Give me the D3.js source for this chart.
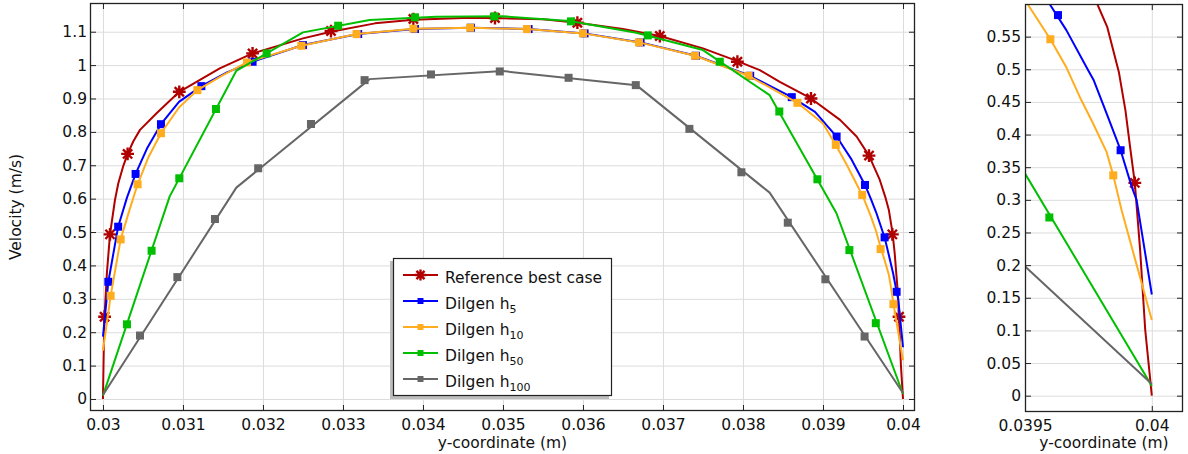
<!DOCTYPE html>
<html>
<head>
<meta charset="utf-8">
<script src="https://cdn.jsdelivr.net/npm/d3@7"></script>
<style>
  body { margin: 0; background: #fff; }
  svg { display: block; font-family: "DejaVu Sans", sans-serif; }
</style>
</head>
<body>
<svg id="chart" width="1188" height="454"></svg>
<script>
// ── Data: [y-coordinate (m), velocity (m/s)] ──────────────────────────
const refLine = [
  [0.03, 0], [0.03001, 0.15], [0.03002, 0.25], [0.03005, 0.38], [0.030088, 0.493],
  [0.03015, 0.596], [0.030192, 0.646], [0.03025, 0.695], [0.030308, 0.734], [0.03038, 0.772],
  [0.030463, 0.806], [0.03067, 0.856], [0.030954, 0.92], [0.03146, 0.99], [0.03187, 1.035],
  [0.0325, 1.08], [0.03285, 1.1], [0.0334, 1.125], [0.03388, 1.136], [0.0345, 1.141],
  [0.0349, 1.141], [0.0355, 1.137], [0.03593, 1.127], [0.0365, 1.108], [0.03696, 1.087],
  [0.0375, 1.05], [0.03793, 1.012], [0.03821, 0.985], [0.03846, 0.95], [0.03885, 0.9],
  [0.039213, 0.836], [0.03942, 0.786], [0.039575, 0.729], [0.03971, 0.656], [0.039785, 0.6],
  [0.039824, 0.565], [0.03987, 0.496], [0.039896, 0.437], [0.039916, 0.376], [0.039933, 0.326],
  [0.039954, 0.223], [0.039974, 0.101], [0.04, 0]
];
const refMarks = [
  [0.03002, 0.2465], [0.030088, 0.493], [0.030308, 0.734], [0.030954, 0.92], [0.03187, 1.035],
  [0.03285, 1.102], [0.03388, 1.138], [0.0349, 1.141], [0.03593, 1.127], [0.03696, 1.087],
  [0.03793, 1.01], [0.03885, 0.9], [0.039575, 0.729], [0.039867, 0.493], [0.03995, 0.2465]
];
const refInsetMarks = [[0.039933, 0.326]];

const h5Line = [
  [0.03, 0.187], [0.030067, 0.351], [0.03019, 0.516], [0.0303, 0.603], [0.030408, 0.674],
  [0.03055, 0.75], [0.030725, 0.823], [0.03095, 0.89], [0.03123, 0.937], [0.03155, 0.978],
  [0.03187, 1.01], [0.0325, 1.06], [0.03319, 1.093], [0.0339, 1.108], [0.0346, 1.112],
  [0.03532, 1.108], [0.03602, 1.095], [0.03672, 1.068], [0.03741, 1.028], [0.03809, 0.968],
  [0.03861, 0.904], [0.0389, 0.86], [0.03917, 0.786], [0.03935, 0.72], [0.039525, 0.641],
  [0.039597, 0.6], [0.039663, 0.56], [0.039749, 0.4985], [0.03977, 0.484], [0.039822, 0.432],
  [0.039877, 0.376], [0.03992, 0.321], [0.03994, 0.3], [0.04, 0.155]
];
const h5Marks = [
  [0.030067, 0.351], [0.03019, 0.516], [0.030408, 0.674], [0.030725, 0.823], [0.03123, 0.937],
  [0.03187, 1.01], [0.0325, 1.06], [0.03319, 1.093], [0.0339, 1.108], [0.0346, 1.112],
  [0.03532, 1.108], [0.03602, 1.095], [0.03672, 1.068], [0.03741, 1.028], [0.03809, 0.968],
  [0.03861, 0.904], [0.03917, 0.786], [0.039525, 0.641], [0.03977, 0.484], [0.03992, 0.321]
];
const h5InsetMarks = [[0.03963, 0.583], [0.039877, 0.376]];

const h10Line = [
  [0.03, 0.145], [0.030096, 0.309], [0.030221, 0.478], [0.03033, 0.565], [0.030433, 0.643],
  [0.03057, 0.725], [0.030725, 0.796], [0.03095, 0.873], [0.03118, 0.925], [0.0315, 0.97],
  [0.0318, 1.008], [0.03248, 1.058], [0.03317, 1.093], [0.03388, 1.109], [0.03459, 1.112],
  [0.0353, 1.108], [0.036, 1.095], [0.0367, 1.068], [0.0374, 1.028], [0.03807, 0.968],
  [0.03868, 0.887], [0.039, 0.825], [0.03916, 0.761], [0.0393, 0.7], [0.03949, 0.611],
  [0.03951, 0.6], [0.0396, 0.546], [0.039663, 0.503], [0.039716, 0.4576], [0.039769, 0.4166],
  [0.039822, 0.373], [0.039848, 0.3375], [0.039881, 0.284], [0.04, 0.116]
];
const h10Marks = [
  [0.030096, 0.309], [0.030221, 0.478], [0.030433, 0.643], [0.030725, 0.796], [0.03118, 0.925],
  [0.0318, 1.008], [0.03248, 1.058], [0.03317, 1.093], [0.03388, 1.109], [0.03459, 1.112],
  [0.0353, 1.108], [0.036, 1.095], [0.0367, 1.068], [0.0374, 1.028], [0.03807, 0.968],
  [0.03868, 0.887], [0.03916, 0.761], [0.03949, 0.611], [0.03972, 0.449], [0.03988, 0.284]
];
const h10InsetMarks = [[0.0396, 0.546], [0.039848, 0.3375]];

const h50Line = [
  [0.03, 0.01], [0.030833, 0.606], [0.031667, 0.983], [0.0325, 1.098], [0.033333, 1.135],
  [0.034167, 1.145], [0.035, 1.146], [0.035833, 1.132], [0.036667, 1.097], [0.0375, 1.045],
  [0.038333, 0.91], [0.039167, 0.557], [0.04, 0.015]
];
const h50Marks = [
  [0.0303, 0.2236], [0.030608, 0.444], [0.030954, 0.661], [0.0314125, 0.8685], [0.032046, 1.035],
  [0.03294, 1.118], [0.0339, 1.143], [0.034892, 1.146], [0.03585, 1.131], [0.03681, 1.089],
  [0.03771, 1.01], [0.038454, 0.861], [0.03893, 0.658], [0.03933, 0.446], [0.03966, 0.227]
];
const h50InsetMarks = [[0.039596, 0.273]];

const h100Line = [
  [0.03, 0.012], [0.031667, 0.633], [0.033333, 0.958], [0.035, 0.982],
  [0.036667, 0.94], [0.038333, 0.618], [0.04, 0.018]
];
const h100Marks = [
  [0.030463, 0.19], [0.03093, 0.365], [0.0314, 0.539], [0.03194, 0.691], [0.0326, 0.8236],
  [0.03327, 0.955], [0.0341, 0.972], [0.03496, 0.981], [0.03582, 0.962], [0.03666, 0.94],
  [0.03733, 0.809], [0.03798, 0.679], [0.03856, 0.528], [0.03903, 0.3585], [0.03952, 0.187]
];
const h100InsetMarks = [];

// ticks
const mainXTicks = [0.03, 0.031, 0.032, 0.033, 0.034, 0.035, 0.036, 0.037, 0.038, 0.039, 0.04];
const mainYTicks = [0, 0.1, 0.2, 0.3, 0.4, 0.5, 0.6, 0.7, 0.8, 0.9, 1, 1.1];
const insetXTicks = [0.0395, 0.04];
const insetYTicks = [0, 0.05, 0.1, 0.15, 0.2, 0.25, 0.3, 0.35, 0.4, 0.45, 0.5, 0.55];

const seriesNames = ['Reference best case', 'Dilgen h', 'Dilgen h', 'Dilgen h', 'Dilgen h'];
const seriesSubs  = [null, '5', '10', '50', '100'];
const seriesColors = ['#b00000', '#0000ff', '#ffad1f', '#00bf00', '#666666'];

const series = [
  { line: refLine,  marks: refMarks,  inset: refInsetMarks,  shape: 'star' },
  { line: h5Line,   marks: h5Marks,   inset: h5InsetMarks,   shape: 'square' },
  { line: h10Line,  marks: h10Marks,  inset: h10InsetMarks,  shape: 'square' },
  { line: h50Line,  marks: h50Marks,  inset: h50InsetMarks,  shape: 'square' },
  { line: h100Line, marks: h100Marks, inset: h100InsetMarks, shape: 'square' },
].map((s, i) => ({ ...s, name: seriesNames[i], sub: seriesSubs[i], color: seriesColors[i] }));

const svg = d3.select('#chart');
const FRAME = '#222';
const GRID = '#dcdcdc';
const FONT = 15.5;

function starPath(r) {
  const a = r * 0.72;
  return `M${-r},0H${r}M0,${-r}V${r}M${-a},${-a}L${a},${a}M${-a},${a}L${a},${-a}`;
}

function drawMarkers(g, pts, s, x, y, size) {
  if (s.shape === 'star') {
    g.selectAll(null).data(pts).join('path')
      .attr('transform', d => `translate(${x(d[0])},${y(d[1])})`)
      .attr('d', starPath(size * 0.8))
      .attr('stroke', s.color).attr('stroke-width', 2.4).attr('fill', 'none');
  } else {
    g.selectAll(null).data(pts).join('rect')
      .attr('x', d => x(d[0]) - size / 2).attr('y', d => y(d[1]) - size / 2)
      .attr('width', size).attr('height', size)
      .attr('fill', s.color);
  }
}

// ── One plot panel ───────────────────────────────────────────────────
function drawPanel(cfg) {
  const { left, right, top, bottom } = cfg;
  const x = d3.scaleLinear().domain(cfg.xDomain).range([left, right]);
  const y = d3.scaleLinear().domain(cfg.yDomain).range([bottom, top]);
  const g = svg.append('g');
  const fmt = d => String(+d.toFixed(4));

  // grid
  g.append('g').attr('transform', `translate(0,${bottom})`)
    .call(d3.axisBottom(x).tickValues(cfg.xTicks).tickSize(-(bottom - top)).tickFormat(''))
    .call(a => a.select('.domain').remove())
    .call(a => a.selectAll('line').attr('stroke', GRID));
  g.append('g').attr('transform', `translate(${left},0)`)
    .call(d3.axisLeft(y).tickValues(cfg.yTicks).tickSize(-(right - left)).tickFormat(''))
    .call(a => a.select('.domain').remove())
    .call(a => a.selectAll('line').attr('stroke', GRID));

  // series, clipped to the frame
  const clipId = 'clip-' + cfg.id;
  svg.append('clipPath').attr('id', clipId)
    .append('rect').attr('x', left).attr('y', top).attr('width', right - left).attr('height', bottom - top);
  const plot = g.append('g').attr('clip-path', `url(#${clipId})`);
  const line = d3.line().x(d => x(d[0])).y(d => y(d[1]));
  series.forEach(s => {
    plot.append('path').datum(s.line)
      .attr('d', line)
      .attr('fill', 'none').attr('stroke', s.color).attr('stroke-width', 2)
      .attr('stroke-linejoin', 'round');
    drawMarkers(plot, cfg.inset ? s.inset : s.marks, s, x, y, 8);
  });

  // inward ticks on all four sides
  const tickStyle = a => {
    a.select('.domain').remove();
    a.selectAll('line').attr('stroke', FRAME);
    a.selectAll('text').attr('fill', '#111').attr('font-size', FONT).attr('font-family', '"DejaVu Sans", sans-serif');
  };
  g.append('g').attr('transform', `translate(0,${bottom})`)
    .call(d3.axisBottom(x).tickValues(cfg.xTicks).tickSize(-6).tickPadding(8).tickFormat(fmt))
    .call(tickStyle);
  g.append('g').attr('transform', `translate(0,${top})`)
    .call(d3.axisTop(x).tickValues(cfg.xTicks).tickSize(-6).tickFormat(''))
    .call(tickStyle);
  g.append('g').attr('transform', `translate(${left},0)`)
    .call(d3.axisLeft(y).tickValues(cfg.yTicks).tickSize(-6).tickPadding(cfg.yPad).tickFormat(fmt))
    .call(tickStyle);
  g.append('g').attr('transform', `translate(${right},0)`)
    .call(d3.axisRight(y).tickValues(cfg.yTicks).tickSize(-6).tickFormat(''))
    .call(tickStyle);

  g.append('rect')
    .attr('x', left + 0.5).attr('y', top + 0.5)
    .attr('width', right - left - 1).attr('height', bottom - top - 1)
    .attr('fill', 'none').attr('stroke', FRAME).attr('stroke-width', 1.3);

  g.append('text')
    .attr('x', (left + right) / 2).attr('y', 448)
    .attr('text-anchor', 'middle').attr('font-size', FONT).attr('fill', '#111')
    .text('y-coordinate (m)');

  return { x, y };
}

drawPanel({
  id: 'main', left: 90, right: 915, top: 3, bottom: 411,
  xDomain: [0.029838, 0.04015], yDomain: [-0.036, 1.186],
  xTicks: mainXTicks, yTicks: mainYTicks, yPad: 3, inset: false
});

drawPanel({
  id: 'inset', left: 1025, right: 1183, top: 4, bottom: 412,
  xDomain: [0.0395, 0.040123], yDomain: [-0.025, 0.6],
  xTicks: insetXTicks, yTicks: insetYTicks, yPad: 4, inset: true
});

// y-axis title
svg.append('text')
  .attr('transform', 'translate(21,207) rotate(-90)')
  .attr('text-anchor', 'middle').attr('font-size', FONT).attr('fill', '#111')
  .text('Velocity (m/s)');

// ── Legend ────────────────────────────────────────────────────────────
const legend = svg.append('g');
legend.append('rect').attr('x', 390).attr('y', 261).attr('width', 219).attr('height', 138).attr('fill', '#bdbdbd');
legend.append('rect').attr('x', 393.5).attr('y', 258.5).attr('width', 218).attr('height', 137)
  .attr('fill', '#fff').attr('stroke', FRAME).attr('stroke-width', 1.2);

const rows = legend.selectAll('.row').data(series).join('g')
  .attr('class', 'row')
  .attr('transform', (d, i) => `translate(0,${275 + i * 26})`);
rows.append('line')
  .attr('x1', 403).attr('x2', 438)
  .attr('stroke', d => d.color).attr('stroke-width', 2);
rows.each(function(d) {
  const r = d3.select(this);
  const id = d3.scaleIdentity();
  drawMarkers(r, [[420.5, 0]], d, id, id, d.shape === 'star' ? 7 : 6);
});
const labels = rows.append('text')
  .attr('x', 445).attr('y', 7.5)
  .attr('font-size', FONT).attr('fill', '#111')
  .text(d => d.name);
labels.filter(d => d.sub).append('tspan')
  .attr('dy', 4).attr('font-size', 11)
  .text(d => d.sub);
</script>
</body>
</html>
